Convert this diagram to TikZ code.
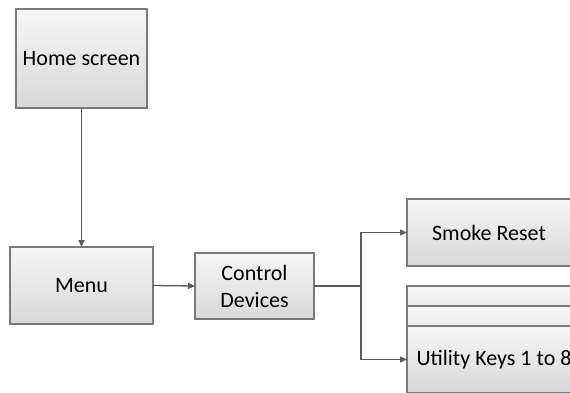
\documentclass[tikz,border=0pt]{standalone}
\usepackage{fontspec}
\setmainfont{Carlito}
\usetikzlibrary{arrows.meta,shadings}
\definecolor{boxline}{HTML}{7A7A7A}
\definecolor{arrline}{HTML}{5A5A5A}
\definecolor{topc}{HTML}{F6F6F6}
\definecolor{botc}{HTML}{D8D8D8}
\tikzset{
  boxstyle/.style={draw=boxline, line width=1.1bp, top color=topc, bottom color=botc,
    inner sep=0pt, outer sep=0pt, align=center, text=black,
    font=\fontsize{22bp}{27bp}\selectfont},
  conn/.style={draw=arrline, line width=1.3bp},
  arr/.style={conn, -{Triangle[length=7bp,width=6bp]}}
}
\begin{document}
\begin{tikzpicture}[x=1bp,y=-1bp]
\useasboundingbox (0,0) rectangle (570,392);
\clip (0,0) rectangle (570,392);
\node[boxstyle, minimum width=131bp, minimum height=99bp] (home) at (81.5,58.5) {Home screen};
\node[boxstyle, minimum width=143bp, minimum height=77bp] (menu) at (81.5,285.5) {Menu};
\node[boxstyle, minimum width=119bp, minimum height=66bp] (cd) at (254.5,286) {Control\\Devices};
\node[boxstyle, minimum width=164bp, minimum height=67bp] (smoke) at (489,232.5) {Smoke Reset};
\node[boxstyle, minimum width=174bp, minimum height=67bp] (u3) at (494,319.5) {};
\node[boxstyle, minimum width=174bp, minimum height=67bp] (u2) at (494,339.5) {};
\node[boxstyle, minimum width=174bp, minimum height=67bp] (util) at (494,359.5) {Utility Keys 1 to 8};
\coordinate (br) at (361,286);
\draw[arr] (home.south) -- (menu.north);
\draw[arr] (menu.east) -- (cd.west);
\draw[conn] (cd.east) -- (br);
\draw[arr] (br) |- (smoke.west);
\draw[arr] (br) |- (util.west);
\end{tikzpicture}
\end{document}
